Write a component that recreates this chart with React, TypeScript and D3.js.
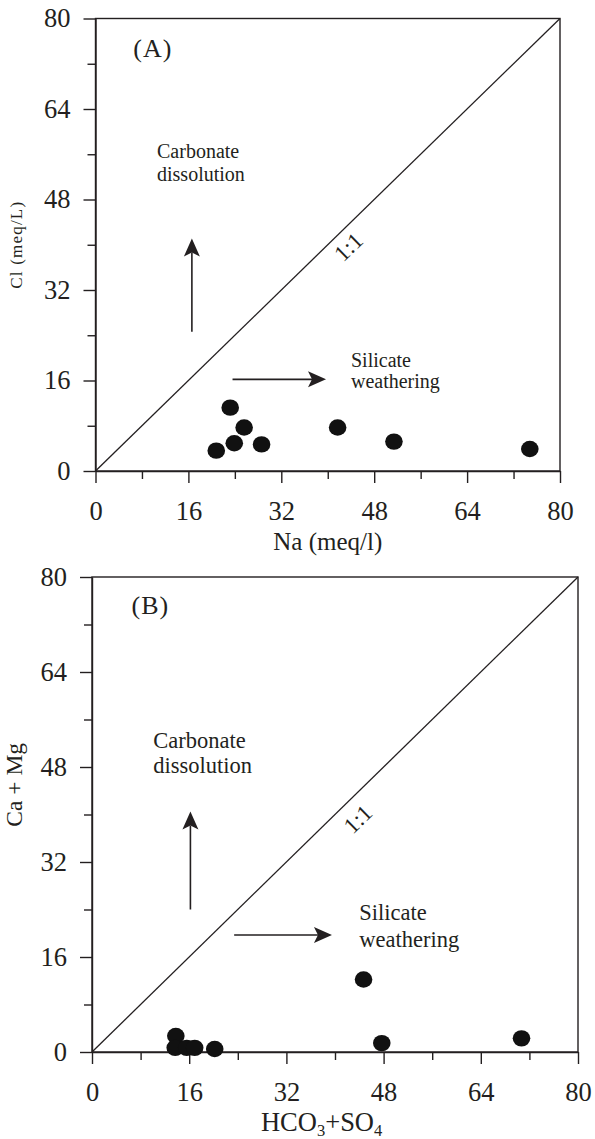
import React, { useEffect, useRef } from 'react';
import * as d3 from 'd3';

// (A) Na vs Cl, meq/L
const naValues = [23.2, 25.6, 23.9, 20.8, 28.6, 41.7, 51.4, 74.8];
const clValues = [11.2, 7.7, 4.9, 3.6, 4.7, 7.7, 5.2, 3.9];

// (B) HCO3+SO4 vs Ca+Mg
const hco3so4Values = [13.8, 13.7, 15.6, 16.9, 20.2, 44.7, 47.7, 70.7];
const caMgValues = [2.7, 0.7, 0.7, 0.7, 0.5, 12.2, 1.5, 2.3];

const axisTicks = [0, 8, 16, 24, 32, 40, 48, 56, 64, 72, 80];
const labelledTicks = [0, 16, 32, 48, 64, 80];

const INK = '#231f20';
const FONT = '"Liberation Serif", "Times New Roman", serif';

const panels = [
  {
    id: 'A',
    xs: naValues,
    ys: clValues,
    xRange: [95.5, 560],
    yRange: [471, 18.5],
    xTitle: 'Na (meq/l)',
    yTitle: 'Cl (meq/L)',
    yTitleSize: 17,
    yTitleSpacing: 1.2,
    yTitleAt: 40,
    noteSize: 20,
    // annotation anchors in data units
    tag: [6.5, 74.8],
    carb: [10.6, 55.3, 51.3],
    sil: [44.0, 18.4, 14.6],
    upArrow: [16.6, 24.6, 41.1],
    rightArrow: [23.6, 39.7, 16.2],
    ratio: [43.6, 39.6],
  },
  {
    id: 'B',
    xs: hco3so4Values,
    ys: caMgValues,
    xRange: [92, 578],
    yRange: [1052, 577],
    xTitle: null,
    yTitle: 'Ca + Mg',
    yTitleSize: 23.5,
    yTitleSpacing: 0,
    yTitleAt: 45,
    noteSize: 22.5,
    tag: [6.5, 75.3],
    carb: [10.1, 51.2, 47.0],
    sil: [44.0, 22.2, 17.7],
    upArrow: [16.2, 24.0, 40.5],
    rightArrow: [23.4, 39.5, 19.7],
    ratio: [43.8, 39.2],
  },
];

function drawArrow(g, x1, y1, x2, y2) {
  const ang = Math.atan2(y2 - y1, x2 - x1);
  const len = 18, half = 8, notch = 4;
  const bx = x2 - len * Math.cos(ang), by = y2 - len * Math.sin(ang);
  g.append('line')
    .attr('x1', x1).attr('y1', y1)
    .attr('x2', bx + notch * Math.cos(ang)).attr('y2', by + notch * Math.sin(ang))
    .attr('stroke', INK).attr('stroke-width', 1.6);
  const px = -Math.sin(ang), py = Math.cos(ang);
  const pts = [
    [x2, y2],
    [bx + half * px, by + half * py],
    [bx + notch * Math.cos(ang), by + notch * Math.sin(ang)],
    [bx - half * px, by - half * py],
  ];
  g.append('path').attr('d', 'M' + pts.map(p => p.join(',')).join('L') + 'Z').attr('fill', INK);
}

function drawPanel(svg, p) {
  const x = d3.scaleLinear().domain([0, 80]).range(p.xRange);
  const y = d3.scaleLinear().domain([0, 80]).range(p.yRange);
  const g = svg.append('g');

  // frame
  g.append('rect')
    .attr('x', x(0)).attr('y', y(80))
    .attr('width', x(80) - x(0)).attr('height', y(0) - y(80))
    .attr('fill', 'none').attr('stroke', INK).attr('stroke-width', 1.4);

  // 1:1 line
  g.append('line')
    .attr('x1', x(0)).attr('y1', y(0)).attr('x2', x(80)).attr('y2', y(80))
    .attr('stroke', INK).attr('stroke-width', 1.3);

  const fmt = d => (labelledTicks.includes(d) ? d : '');
  const xa = g.append('g').attr('transform', `translate(0,${y(0)})`)
    .call(d3.axisBottom(x).tickValues(axisTicks).tickFormat(fmt).tickSize(12).tickSizeOuter(0).tickPadding(18));
  const ya = g.append('g').attr('transform', `translate(${x(0)},0)`)
    .call(d3.axisLeft(y).tickValues(axisTicks).tickFormat(fmt).tickSize(12).tickSizeOuter(0).tickPadding(13));

  [xa, ya].forEach(a => {
    a.attr('font-family', FONT).attr('font-size', 26.5).attr('color', INK);
    a.select('.domain').attr('stroke-width', 1.4);
    a.selectAll('.tick line').attr('stroke-width', 1.4);
  });
  xa.selectAll('.tick').filter(d => !labelledTicks.includes(d)).select('line').attr('y2', 8);
  ya.selectAll('.tick').filter(d => !labelledTicks.includes(d)).select('line').attr('x2', -8);

  // axis titles
  g.append('text')
    .attr('transform', `translate(22,${y(p.yTitleAt)}) rotate(-90)`)
    .attr('text-anchor', 'middle')
    .attr('font-family', FONT).attr('font-size', p.yTitleSize)
    .attr('letter-spacing', p.yTitleSpacing).attr('fill', INK)
    .text(p.yTitle);

  const tx = g.append('text')
    .attr('x', p.id === 'A' ? x(40) : x(37.8))
    .attr('y', y(0) + 79)
    .attr('text-anchor', 'middle')
    .attr('font-family', FONT).attr('font-size', p.xTitle ? 25 : 26.5).attr('fill', INK);
  if (p.xTitle) {
    tx.text(p.xTitle);
  } else {
    tx.append('tspan').text('HCO');
    tx.append('tspan').attr('font-size', 16.5).attr('dy', 5).text('3');
    tx.append('tspan').attr('dy', -5).text('+SO');
    tx.append('tspan').attr('font-size', 16.5).attr('dy', 5).text('4');
  }

  // panel tag
  g.append('text')
    .attr('x', x(p.tag[0])).attr('y', y(p.tag[1]))
    .attr('dy', '0.35em')
    .attr('font-family', FONT).attr('font-size', 26).attr('letter-spacing', 1).attr('fill', INK)
    .text(`(${p.id})`);

  // annotation text
  const note = (tx0, ty0, s) => g.append('text')
    .attr('x', x(tx0)).attr('y', y(ty0))
    .attr('font-family', FONT).attr('font-size', p.noteSize).attr('fill', INK)
    .text(s);
  note(p.carb[0], p.carb[1], 'Carbonate');
  note(p.carb[0], p.carb[2], 'dissolution');
  note(p.sil[0], p.sil[1], 'Silicate');
  note(p.sil[0], p.sil[2], 'weathering');

  drawArrow(g, x(p.upArrow[0]), y(p.upArrow[1]), x(p.upArrow[0]), y(p.upArrow[2]));
  drawArrow(g, x(p.rightArrow[0]), y(p.rightArrow[2]), x(p.rightArrow[1]), y(p.rightArrow[2]));

  const angle = Math.atan2(y(0) - y(80), x(80) - x(0)) * 180 / Math.PI;
  g.append('text')
    .attr('transform', `translate(${x(p.ratio[0])},${y(p.ratio[1])}) rotate(${-angle})`)
    .attr('text-anchor', 'middle').attr('dominant-baseline', 'central')
    .attr('font-family', FONT).attr('font-size', 23).attr('fill', INK)
    .text('1:1');

  // samples
  g.selectAll('ellipse.pt')
    .data(p.xs.map((v, i) => [v, p.ys[i]]))
    .enter()
    .append('ellipse')
    .attr('class', 'pt')
    .attr('cx', d => x(d[0]))
    .attr('cy', d => y(d[1]))
    .attr('rx', 8.8)
    .attr('ry', 8.2)
    .attr('fill', '#111');
}

export default function App() {
  const ref = useRef(null);

  useEffect(() => {
    const svg = d3.select(ref.current);
    svg.selectAll('*').remove();
    panels.forEach(p => drawPanel(svg, p));
  }, []);

  return (
    <svg
      ref={ref}
      width={595}
      height={1139}
      style={{ position: 'absolute', left: 0, top: 0, background: '#fff', display: 'block' }}
    />
  );
}
